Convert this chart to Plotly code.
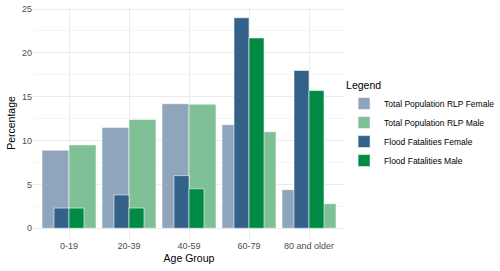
import plotly.graph_objects as go

age_groups = ["0-19", "20-39", "40-59", "60-79", "80 and older"]
pop_female = [8.9, 11.5, 14.2, 11.8, 4.4]
pop_male = [9.5, 12.4, 14.15, 11.0, 2.8]
fat_female = [2.3, 3.8, 6.0, 24.0, 18.0]
fat_male = [2.3, 2.3, 4.5, 21.7, 15.7]

series = [
    ("Total Population RLP Female", pop_female, "rgba(143,165,188,1)", 0.45, -0.45),
    ("Total Population RLP Male", pop_male, "rgba(128,192,150,1)", 0.45, 0.0),
    ("Flood Fatalities Female", fat_female, "#34618a", 0.25, -0.25),
    ("Flood Fatalities Male", fat_male, "#008a44", 0.25, 0.0),
]

fig = go.Figure()
for name, vals, color, w, off in series:
    fig.add_trace(go.Bar(
        x=age_groups, y=vals, name=name,
        width=w, offset=off,
        marker=dict(color=color, line=dict(color="rgba(255,255,255,0.8)", width=0.7)),
    ))

font = "Liberation Sans, Arial, sans-serif"
fig.update_layout(
    width=500, height=271,
    barmode="overlay",
    hovermode=False,
    paper_bgcolor="white", plot_bgcolor="white",
    margin=dict(l=33, r=155, t=7, b=31.5, autoexpand=False),
    font=dict(family=font, size=9, color="#4d4d4d"),
    showlegend=True,
    legend=dict(
        title=dict(text="Legend", font=dict(size=10.5, color="black")),
        x=0.997, xanchor="left", y=0.705, yanchor="top",
        font=dict(size=8.5, color="black"),
        bgcolor="rgba(0,0,0,0)", tracegroupgap=0,
    ),
    xaxis=dict(
        range=[-0.6, 4.6], showgrid=True, gridcolor="#ebebeb", gridwidth=1,
        zeroline=False, showline=False, ticks="", automargin=False,
        tickfont=dict(size=9, color="#4d4d4d"),
        title=dict(text="Age Group", font=dict(size=10.5, color="black"), standoff=4),
    ),
    yaxis=dict(
        range=[-1.23, 25.23], dtick=5, tick0=0, showgrid=True, gridcolor="#ebebeb", gridwidth=1,
        zeroline=False, showline=False, ticks="", automargin=False,
        minor=dict(dtick=2.5, tick0=0, showgrid=True, gridcolor="#f5f5f5", gridwidth=0.6),
        tickfont=dict(size=9, color="#4d4d4d"),
        title=dict(text="Percentage", font=dict(size=10.5, color="black"), standoff=4),
    ),
)

fig.write_html("out.html", config={"displayModeBar": False},
               post_script="document.body.style.margin='0';")
